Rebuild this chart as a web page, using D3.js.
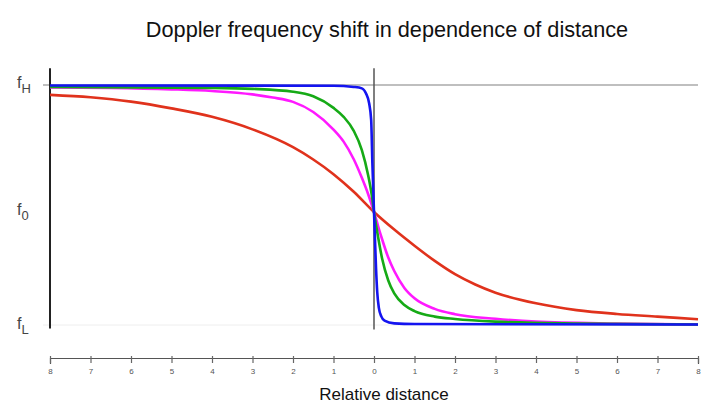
<!DOCTYPE html>
<html>
<head>
<meta charset="utf-8">
<script src="https://cdn.jsdelivr.net/npm/d3@7"></script>
<style>
  body { margin: 0; background: #fff; }
  text { font-family: "Liberation Sans", Arial, sans-serif; }
</style>
</head>
<body>
<div id="chart"></div>
<script>
// Chart size.
var width = 707;
var height = 405;

// Relative distance ticks (labels show the absolute value).
var distanceTicks = [-8, -7, -6, -5, -4, -3, -2, -1, 0, 1, 2, 3, 4, 5, 6, 7, 8];

// Frequency levels: f_L = 0, f_H = 1, f_0 sits a bit below the middle.
var freqLevels = [
    { name: "H", value: 1 },
    { name: "0", value: 0.473 },
    { name: "L", value: 0 }
];

// Curves: [relative distance, relative frequency].
var redCurve = [
    [-8, 0.959], [-7, 0.949], [-6, 0.931], [-5, 0.903], [-4, 0.868],
    [-3, 0.816], [-2, 0.742], [-1.5, 0.691], [-1, 0.630], [-0.5, 0.557],
    [0, 0.473], [0.5, 0.400], [1, 0.333], [1.5, 0.270], [2, 0.215],
    [2.5, 0.172], [3, 0.138], [4, 0.094], [5, 0.066], [6, 0.050],
    [7, 0.039], [8, 0.028]
];
var magentaCurve = [
    [-8, 0.990], [-6.5, 0.988], [-5, 0.982], [-4, 0.975], [-3, 0.961],
    [-2.5, 0.948], [-2, 0.930], [-1.5, 0.888], [-1, 0.815], [-0.75, 0.765],
    [-0.5, 0.692], [-0.3, 0.615], [-0.15, 0.550], [0, 0.473], [0.05, 0.445],
    [0.1, 0.415], [0.2, 0.360], [0.35, 0.285], [0.5, 0.228], [0.75, 0.158],
    [1, 0.115], [1.5, 0.071], [2, 0.049], [3, 0.030], [4, 0.018],
    [6, 0.010], [8, 0.006]
];
var greenCurve = [
    [-8, 0.992], [-4, 0.988], [-3, 0.984], [-2, 0.972], [-1.5, 0.953],
    [-1, 0.905], [-0.75, 0.868], [-0.5, 0.810], [-0.3, 0.730], [-0.15, 0.630],
    [-0.05, 0.537], [0, 0.473], [0.05, 0.420], [0.1, 0.370], [0.2, 0.280],
    [0.35, 0.190], [0.5, 0.135], [0.75, 0.087], [1, 0.062], [1.5, 0.039],
    [2, 0.029], [3, 0.018], [5, 0.010], [8, 0.006]
];
var blueCurve = [
    [-8, 0.998], [-1, 0.997], [-0.5, 0.992], [-0.3, 0.986], [-0.2, 0.966],
    [-0.12, 0.924], [-0.07, 0.855], [-0.04, 0.675], [0, 0.473], [0.02, 0.380],
    [0.05, 0.240], [0.08, 0.140], [0.12, 0.075], [0.18, 0.040], [0.26, 0.022],
    [0.5, 0.011], [1, 0.008], [8, 0.006]
];

var series = [
    { color: "#e0321c", points: redCurve },
    { color: "#ff19ff", points: magentaCurve },
    { color: "#16aa16", points: greenCurve },
    { color: "#1414f0", points: blueCurve }
];

var svg = d3.select("#chart").append("svg")
    .attr("width", width)
    .attr("height", height);

var x = d3.scaleLinear().domain([-8, 8]).range([50, 698]);
var y = d3.scaleLinear().domain([0, 1]).range([326, 85]);

// Title.
svg.append("text")
    .attr("x", 387)
    .attr("y", 37)
    .attr("text-anchor", "middle")
    .style("font-size", "21.7px")
    .style("fill", "#111")
    .text("Doppler frequency shift in dependence of distance");

// Horizontal reference lines for f_H and f_L.
svg.append("line")
    .attr("x1", 43).attr("x2", x(8))
    .attr("y1", y(1)).attr("y2", y(1))
    .style("stroke", "#aaa")
    .style("stroke-width", 1.5);

svg.append("line")
    .attr("x1", 43).attr("x2", x(8))
    .attr("y1", y(0) - 1).attr("y2", y(0) - 1)
    .style("stroke", "#eee")
    .style("stroke-width", 1);

// Left axis line.
svg.append("line")
    .attr("x1", x(-8)).attr("x2", x(-8))
    .attr("y1", y(1.07)).attr("y2", y(-0.01))
    .style("stroke", "#222")
    .style("stroke-width", 2);

// Centre line at distance zero.
svg.append("line")
    .attr("x1", x(0)).attr("x2", x(0))
    .attr("y1", y(1.07)).attr("y2", y(-0.015))
    .style("stroke", "#555")
    .style("stroke-width", 1.5);

// Frequency labels with subscripts.
var labels = svg.selectAll(".flabel")
    .data(freqLevels)
    .enter().append("text")
    .attr("class", "flabel")
    .attr("x", 17)
    .attr("y", function(d) { return y(d.value) + 3; })
    .style("fill", "#444")
    .style("font-size", "16px");

labels.append("tspan").text("f");
labels.append("tspan")
    .attr("dy", 5)
    .style("font-size", "13px")
    .text(function(d) { return d.name; });

// Curves.
var line = d3.line()
    .x(function(d) { return x(d[0]); })
    .y(function(d) { return y(d[1]); })
    .curve(d3.curveMonotoneX);

svg.selectAll(".curve")
    .data(series)
    .enter().append("path")
    .attr("class", "curve")
    .attr("d", function(d) { return line(d.points); })
    .style("fill", "none")
    .style("stroke", function(d) { return d.color; })
    .style("stroke-width", 2.6)
    .style("stroke-linejoin", "round");

// Bottom axis.
var xAxis = d3.axisBottom(x)
    .tickValues(distanceTicks)
    .tickSize(6)
    .tickFormat(function(d) { return Math.abs(d); });

var axisG = svg.append("g")
    .attr("transform", "translate(0,358)")
    .call(xAxis);

axisG.select(".domain").style("stroke", "#555").style("stroke-width", 1.2);
axisG.selectAll(".tick line")
    .attr("y1", -2)
    .attr("y2", 5)
    .style("stroke", "#666")
    .style("stroke-width", 1.2);
axisG.selectAll(".tick text")
    .attr("y", 10)
    .attr("dy", "0.71em")
    .style("font-size", "8px")
    .style("fill", "#555")
    .style("font-family", "'Liberation Sans', Arial, sans-serif");

// Axis title.
svg.append("text")
    .attr("x", 384)
    .attr("y", 400)
    .attr("text-anchor", "middle")
    .style("font-size", "17px")
    .style("fill", "#111")
    .text("Relative distance");
</script>
</body>
</html>
